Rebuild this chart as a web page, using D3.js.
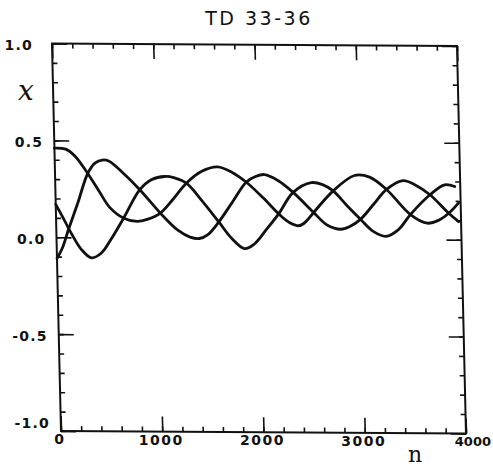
<!DOCTYPE html>
<html><head><meta charset="utf-8">
<script src="https://cdn.jsdelivr.net/npm/d3@7"></script>
<style>body{margin:0;background:#fff}</style>
</head><body>
<svg id="c" width="493" height="470"></svg>
<script>
const title = "TD 33-36";
const yAxisLabel = "x";
const xAxisLabel = "n";
const xTickValues = [0, 1000, 2000, 3000, 4000];
const xTickLabels = ["0", "1000", "2000", "3000", "4000"];
const yTickValues = [1.0, 0.5, 0.0, -0.5, -1.0];
const yTickLabels = ["1.0", "0.5", "0.0", "-0.5", "-1.0"];

// Series A (starts at 0.46)
const nA = [0, 110, 200, 323, 430, 537, 669, 801, 900, 1031, 1160, 1295, 1450, 1607, 1750, 1888, 2050, 2200, 2300, 2400, 2470, 2546, 2744, 2958, 3106, 3271, 3501, 3666, 3780, 3880, 3980];
const vA = [0.46, 0.455, 0.42, 0.33, 0.24, 0.153, 0.10, 0.084, 0.095, 0.128, 0.20, 0.283, 0.345, 0.368, 0.34, 0.29, 0.21, 0.128, 0.085, 0.067, 0.09, 0.136, 0.248, 0.328, 0.32, 0.257, 0.128, 0.084, 0.10, 0.136, 0.19];
// Series B (starts at 0.17)
const nB = [0, 70, 142, 240, 340, 440, 537, 669, 834, 950, 1083, 1180, 1295, 1450, 1607, 1730, 1854, 1950, 2080, 2200, 2348, 2530, 2640, 2744, 2880, 3007, 3130, 3254, 3380, 3501, 3699, 3847, 3946];
const vB = [0.17, 0.10, 0.026, -0.06, -0.105, -0.08, -0.01, 0.102, 0.248, 0.30, 0.317, 0.31, 0.283, 0.19, 0.084, 0.0, -0.053, -0.03, 0.05, 0.128, 0.239, 0.29, 0.28, 0.248, 0.17, 0.102, 0.04, 0.015, 0.05, 0.128, 0.231, 0.283, 0.274];
// Series C (starts at -0.11)
const nC = [0, 60, 120, 220, 323, 400, 471, 537, 680, 834, 1031, 1200, 1320, 1410, 1500, 1607, 1750, 1888, 1980, 2069, 2200, 2348, 2546, 2680, 2810, 2900, 3007, 3140, 3271, 3435, 3560, 3699, 3880, 3976];
const vC = [-0.11, -0.05, 0.04, 0.18, 0.33, 0.385, 0.40, 0.394, 0.33, 0.248, 0.128, 0.04, 0.005, -0.002, 0.02, 0.084, 0.19, 0.291, 0.32, 0.33, 0.30, 0.239, 0.136, 0.07, 0.05, 0.065, 0.102, 0.18, 0.257, 0.303, 0.28, 0.231, 0.136, 0.093];

const series = [[nA, vA], [nB, vB], [nC, vC]];

const W = 405, H = 387.5;
// slight shear of the scanned original
const M = {a: 1, b: 0.006, c: 0.0232, d: 1, e: 52, f: 43.5};
const P = (u, w) => [M.e + M.a * u + M.c * w, M.f + M.b * u + M.d * w];

const x = d3.scaleLinear().domain([0, 4000]).range([0, W]);
const y = d3.scaleLinear().domain([-1, 1]).range([H, 0]);

const svg = d3.select("#c");
const g = svg.append("g").attr("transform", `matrix(${M.a},${M.b},${M.c},${M.d},${M.e},${M.f})`);

const ink = "#111";
const minorX = d3.range(0, 4001, 200);
const minorY = d3.range(-10, 11, 1).map(d => d / 10);

function side(axisFn, vals, size, transform) {
  const ax = g.append("g").attr("transform", transform)
    .call(axisFn.tickValues(vals).tickSize(-size).tickFormat(""));
  ax.select(".domain").remove();
  ax.selectAll("line").attr("stroke", ink).attr("stroke-width", 1.6);
}
side(d3.axisBottom(x), minorX, 5, `translate(0,${H})`);
side(d3.axisBottom(x), xTickValues, 15, `translate(0,${H})`);
side(d3.axisTop(x), minorX, 5, `translate(0,0)`);
side(d3.axisTop(x), xTickValues, 15, `translate(0,0)`);
side(d3.axisLeft(y), minorY, 5, `translate(0,0)`);
side(d3.axisLeft(y), yTickValues, 15, `translate(0,0)`);
side(d3.axisRight(y), minorY, 5, `translate(${W},0)`);
side(d3.axisRight(y), yTickValues, 15, `translate(${W},0)`);

g.append("rect").attr("x", 0).attr("y", 0).attr("width", W).attr("height", H)
  .attr("fill", "none").attr("stroke", ink).attr("stroke-width", 2);

const line = d3.line().x(d => x(d[0])).y(d => y(d[1])).curve(d3.curveCatmullRom.alpha(0.5));
series.forEach(([ns, vs]) => {
  g.append("path").datum(ns.map((n, i) => [n, vs[i]]))
    .attr("d", line).attr("fill", "none").attr("stroke", ink)
    .attr("stroke-width", 2.8).attr("stroke-linejoin", "round").attr("stroke-linecap", "round");
});

// texts
const tickFont = "'DejaVu Sans', sans-serif";
svg.append("text").attr("x", 259).attr("y", 25).attr("text-anchor", "middle")
  .attr("font-family", tickFont).attr("font-size", 19).attr("letter-spacing", 2.5)
  .attr("fill", ink).text(title);

xTickValues.forEach((v, i) => {
  const [X, Y] = P(x(v), H);
  const last = i === xTickValues.length - 1;
  svg.append("text").attr("x", last ? 491 : X - 1).attr("y", Y + 13)
    .attr("text-anchor", last ? "end" : "middle")
    .attr("font-family", tickFont).attr("font-weight", "bold").attr("font-size", last ? 13 : 14)
    .attr("letter-spacing", last ? 0 : 1.5).attr("fill", ink).text(xTickLabels[i]);
});
yTickValues.forEach((v, i) => {
  const [X, Y] = P(0, y(v));
  const first = i === 0, last = i === yTickValues.length - 1;
  svg.append("text").attr("x", first ? X - 19 : X - 11).attr("y", last ? Y - 3 : Y + 6.5)
    .attr("text-anchor", "end")
    .attr("font-family", tickFont).attr("font-weight", "bold").attr("font-size", 14)
    .attr("letter-spacing", 1.2).attr("fill", ink).text(yTickLabels[i]);
});

svg.append("text").attr("x", 26).attr("y", 100).attr("text-anchor", "middle")
  .attr("font-family", "'DejaVu Serif', serif").attr("font-style", "italic").attr("font-size", 28)
  .attr("fill", ink).text(yAxisLabel);
svg.append("text").attr("x", 415).attr("y", 462).attr("text-anchor", "middle")
  .attr("font-family", "'DejaVu Serif', serif").attr("font-size", 22)
  .attr("fill", ink).text(xAxisLabel);
</script>
</body></html>
